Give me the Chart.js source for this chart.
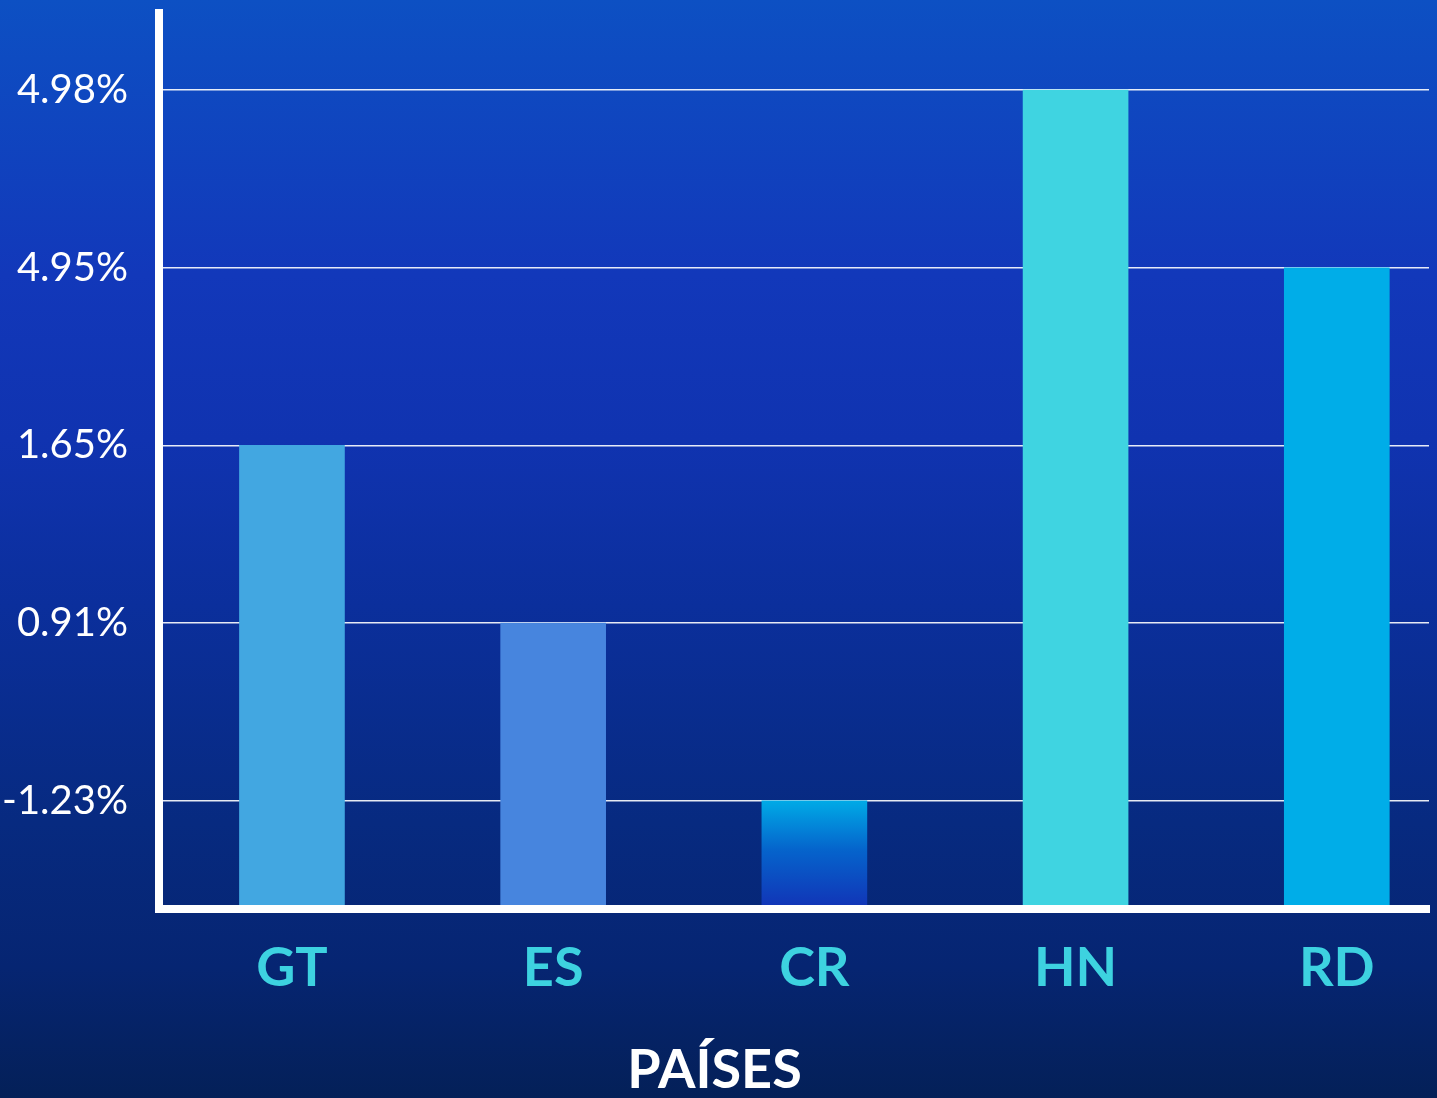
<!DOCTYPE html>
<html>
<head>
<meta charset="utf-8">
<script src="https://cdn.jsdelivr.net/npm/chart.js@4.4.1/dist/chart.umd.min.js"></script>
<style>
  html, body { margin: 0; padding: 0; }
  body {
    width: 1437px; height: 1098px; overflow: hidden;
    background: linear-gradient(180deg, #0d50c3 0%, #1238ba 25%, #1033b0 40%, #0b2f9c 55%, #072a80 75%, #062572 88%, #042058 100%);
  }
  #wrap { position: relative; width: 1437px; height: 1098px; }
  canvas { display: block; }
</style>
</head>
<body>
<div id="wrap"><canvas id="growthChart" width="1437" height="1098"></canvas></div>
<script>
// Países y crecimiento (%)
const countries = ['GT', 'ES', 'CR', 'HN', 'RD'];
const growth = [1.65, 0.91, -1.23, 4.98, 4.95];
// the axis shows only these values, evenly spaced
const tickValues = [-1.23, 0.91, 1.65, 4.95, 4.98];
const barColors = ['#42a7e1', '#4785de', null, '#3fd4e1', '#00ade8'];

const points = growth.map((v, i) => ({ x: i, y: tickValues.indexOf(v) + 1 }));

// CR bar uses a vertical gradient
function barColor(ctx) {
    const i = ctx.dataIndex;
    if (barColors[i]) return barColors[i];
    const yScale = ctx.chart.scales.y;
    if (!yScale) return '#0a80d8';
    const top = yScale.getPixelForValue(points[i].y);
    const g = ctx.chart.ctx.createLinearGradient(0, top, 0, yScale.bottom);
    g.addColorStop(0, '#00aae6');
    g.addColorStop(0.45, '#0564cc');
    g.addColorStop(1, '#1233b6');
    return g;
}

const ctx = document.getElementById('growthChart').getContext('2d');
const growthChart = new Chart(ctx, {
    type: 'bar',
    data: {
        datasets: [{
            data: points,
            backgroundColor: barColor,
            borderWidth: 0,
            barThickness: 105
        }]
    },
    options: {
        responsive: false,
        animation: false,
        layout: { padding: { top: 13, right: 8, left: 0, bottom: 0 } },
        plugins: {
            legend: { display: false },
            tooltip: { enabled: false },
            title: {
                display: true,
                position: 'bottom',
                text: 'PAÍSES',
                color: '#ffffff',
                font: { family: 'Lato', size: 54, weight: 'bold', lineHeight: 1 },
                padding: 0
            }
        },
        scales: {
            x: {
                type: 'linear',
                offset: false,
                min: -0.509,
                max: 4.353,
                afterFit: (s) => { s.height = 135; s.paddingLeft = 0; s.paddingRight = 0; },
                grid: { display: false },
                border: { display: true, color: '#ffffff', width: 8, z: 1 },
                afterBuildTicks: (s) => { s.ticks = countries.map((c, i) => ({ value: i })); },
                ticks: {
                    color: '#3dd2e0',
                    padding: 25,
                    font: { family: 'Lato', size: 54, weight: 'bold', lineHeight: 1 },
                    callback: (v) => countries[v]
                }
            },
            y: {
                min: 0.392,
                max: 5.433,
                afterFit: (s) => { s.width = 159; s.paddingTop = 0; s.paddingBottom = 0; },
                grid: { color: 'rgba(255,255,255,0.9)', lineWidth: 1.5, drawTicks: false },
                border: { display: true, color: '#ffffff', width: 8, z: 1 },
                afterBuildTicks: (s) => { s.ticks = tickValues.map((t, i) => ({ value: i + 1 })); },
                ticks: {
                    color: '#ffffff',
                    padding: 31,
                    font: { family: 'Lato', size: 40, lineHeight: 1 },
                    callback: (v) => tickValues[v - 1].toFixed(2) + '%'
                }
            }
        }
    }
});
</script>
</body>
</html>
